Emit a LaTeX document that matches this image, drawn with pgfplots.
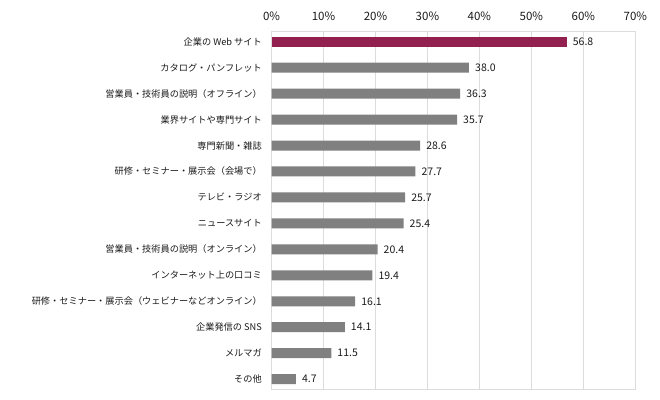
\documentclass[border=0pt]{standalone}
\usepackage{pgfplots}
\pgfplotsset{compat=1.18}
\usepackage{fontspec}
\setmainfont{Noto Sans CJK JP}
\definecolor{barmag}{HTML}{93214F}
\definecolor{bargray}{HTML}{808080}
\definecolor{gridc}{HTML}{DCDCDC}
\definecolor{txt}{HTML}{1A1A1A}
\begin{document}
\begin{tikzpicture}[x=1bp,y=1bp]
\useasboundingbox (0,0) rectangle (660,399);
\begin{axis}[
  at={(271.5bp,9.5bp)}, anchor=south west,
  scale only axis, width=363.8bp, height=358.2bp,
  xmin=0, xmax=70, ymin=-0.4, ymax=13.4, y dir=reverse,
  xtick={0,10,...,70},
  xticklabel pos=upper,
  xticklabel={\pgfmathprintnumber{\tick}\%},
  xticklabel style={font=\fontsize{11.5bp}{12bp}\selectfont, text=txt, inner sep=0pt, anchor=base, yshift=10.5bp},
  /pgf/number format/assume math mode=true,
  ytick={0,...,13},
  yticklabels={企業の Web サイト, カタログ・パンフレット, 営業員・技術員の説明（オフライン）, 業界サイトや専門サイト, 専門新聞・雑誌, 研修・セミナー・展示会（会場で）, テレビ・ラジオ, ニュースサイト, 営業員・技術員の説明（オンライン）, インターネット上の口コミ, 研修・セミナー・展示会（ウェビナーなどオンライン）, 企業発信の SNS, メルマガ, その他},
  yticklabel style={font=\fontsize{9.2bp}{11bp}\selectfont, text=txt, inner sep=0pt, anchor=east, xshift=-9.5bp},
  major tick length=0pt,
  xmajorgrids, grid style={gridc, line width=1bp},
  axis line style={gridc, line width=1bp},
  xbar, bar width=10bp, bar shift=0pt,
  nodes near coords,
  nodes near coords style={font=\fontsize{10.5bp}{12bp}\selectfont, text=txt, inner sep=0pt, anchor=west, xshift=6bp, /pgf/number format/.cd, fixed, fixed zerofill, precision=1, assume math mode=true},
  clip=false,
]
\addplot[fill=barmag, draw=none] coordinates {(56.8,0)};
\addplot[fill=bargray, draw=none] coordinates {
(38.0,1) (36.3,2) (35.7,3) (28.6,4) (27.7,5) (25.7,6) (25.4,7) (20.4,8) (19.4,9) (16.1,10) (14.1,11) (11.5,12) (4.7,13)};
\end{axis}
\end{tikzpicture}
\end{document}
